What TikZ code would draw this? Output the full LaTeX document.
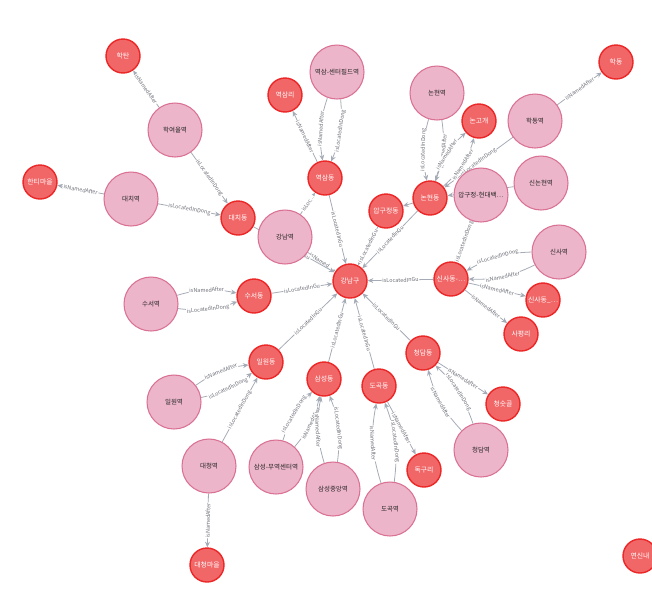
\documentclass[tikz,border=0pt]{standalone}
\usepackage{fontspec}
\setmainfont{Noto Sans CJK KR}
\usetikzlibrary{arrows.meta, backgrounds}

\definecolor{dongfill}{HTML}{F16667}
\definecolor{dongline}{HTML}{EB2728}
\definecolor{stationfill}{HTML}{ECB5C9}
\definecolor{stationline}{HTML}{DA7194}
\definecolor{edgegray}{HTML}{A5ABB6}
\definecolor{labelgray}{HTML}{6E7079}

\tikzset{
    place/.style={circle, draw=dongline, fill=dongfill, line width=0.8pt,
        minimum size=0.68cm, inner sep=0pt, text=white,
        font=\fontsize{3.9}{4.5}\selectfont},
    station/.style={circle, draw=stationline, fill=stationfill, line width=0.6pt,
        minimum size=1.08cm, inner sep=0pt, text=black!85,
        font=\fontsize{3.7}{4.5}\selectfont},
    rel/.style={draw=edgegray, line width=0.45pt,
        -{Stealth[length=3.2pt, width=2.8pt]}},
    lbl/.style={midway, sloped, fill=white, inner sep=0.4pt, text=labelgray,
        font=\fontsize{3.1}{3.8}\selectfont}
}

\begin{document}
\begin{tikzpicture}[x=0.02cm, y=-0.02cm]
    \useasboundingbox (0,0) rectangle (652,600);
    \clip (0,0) rectangle (652,600);

    % Dong / place nodes
    \node[place] (haktan) at (123,56) {학탄};
    \node[place] (yeoksamri) at (285,95) {역삼리};
    \node[place] (yeoksamdong) at (325,178) {역삼동};
    \node[place] (daechidong) at (238,218) {대치동};
    \node[place] (hantimaeul) at (40,182) {한티마을};
    \node[place] (nongogae) at (479,121) {논고개};
    \node[place] (hakdong) at (616,62) {학동};
    \node[place] (nonhyeondong) at (430,198) {논현동};
    \node[place] (apgujeongdong) at (386,211) {압구정동};
    \node[place] (gangnamgu) at (350,281) {강남구};
    \node[place] (suseodong) at (254,296) {수서동};
    \node[place] (sinsadongA) at (451,279) {신사동-…};
    \node[place] (sinsadongB) at (543,300) {신사동\_…};
    \node[place] (sapyeongri) at (521,334) {사평리};
    \node[place] (cheongdamdong) at (423,353) {청담동};
    \node[place] (irwondong) at (266,362) {일원동};
    \node[place] (samseongdong) at (324,379) {삼성동};
    \node[place] (dogokdong) at (379,386) {도곡동};
    \node[place] (cheongsutgol) at (503,404) {청숫골};
    \node[place] (dokguri) at (424,470) {독구리};
    \node[place] (daecheongmaeul) at (207,565) {대청마을};
    \node[place] (yeonsinnae) at (640,556) {연신내};

    % Station nodes
    \node[station] (hagyeoulSt) at (175,130) {학여울역};
    \node[station] (daechiSt) at (131,199) {대치역};
    \node[station] (yeoksamSt) at (337,72) {역삼-센터필드역};
    \node[station] (gangnamSt) at (285,237) {강남역};
    \node[station] (nonhyeonSt) at (437,93) {논현역};
    \node[station] (hakdongSt) at (535,121) {학동역};
    \node[station] (apgujeongSt) at (481,195) {압구정-현대백…};
    \node[station] (sinnonhyeonSt) at (541,183) {신논현역};
    \node[station] (sinsaSt) at (559,252) {신사역};
    \node[station] (suseoSt) at (151,304) {수서역};
    \node[station] (irwonSt) at (174,402) {일원역};
    \node[station] (daecheongSt) at (209,466) {대청역};
    \node[station] (samseongSt) at (276,467) {삼성-무역센터역};
    \node[station] (samseongjungangSt) at (333,489) {삼성중앙역};
    \node[station] (dogokSt) at (390,509) {도곡역};
    \node[station] (cheongdamSt) at (481,450) {청담역};

    \begin{pgfonlayer}{background}
        % Stations to dong
        \draw[rel] (hagyeoulSt) -- (haktan) node[lbl] {isNamedAfter};
        \draw[rel] (hagyeoulSt) -- (daechidong) node[lbl] {isLocatedInDong};
        \draw[rel] (daechiSt) -- (hantimaeul) node[lbl] {isNamedAfter};
        \draw[rel] (daechiSt) -- (daechidong) node[lbl] {isLocatedInDong};
        \draw[rel] (yeoksamSt) to[bend right=14] node[lbl] {isNamedAfter} (yeoksamdong);
        \draw[rel] (yeoksamSt) to[bend left=14] node[lbl] {isLocatedInDong} (yeoksamdong);
        \draw[rel] (gangnamSt) -- (yeoksamdong) node[lbl] {isLoc...};
        \draw[rel] (gangnamSt) -- (gangnamgu) node[lbl] {isNamed...};
        \draw[rel] (nonhyeonSt) to[bend right=14] node[lbl] {isLocatedInDong} (nonhyeondong);
        \draw[rel] (nonhyeonSt) to[bend left=14] node[lbl] {isNamedAfter} (nonhyeondong);
        \draw[rel] (hakdongSt) -- (hakdong) node[lbl] {isNamedAfter};
        \draw[rel] (hakdongSt) -- (nonhyeondong) node[lbl] {isLocatedInDong};
        \draw[rel] (sinnonhyeonSt) -- (nonhyeondong) node[lbl] {isLocatedInDong};
        \draw[rel] (apgujeongSt) -- (sinsadongA) node[lbl] {isLocatedInDong};
        \draw[rel] (sinsaSt) to[bend right=14] node[lbl] {isLocatedInDong} (sinsadongA);
        \draw[rel] (sinsaSt) to[bend left=14] node[lbl] {isNamedAfter} (sinsadongA);
        \draw[rel] (suseoSt) to[bend left=14] node[lbl] {isNamedAfter} (suseodong);
        \draw[rel] (suseoSt) to[bend right=14] node[lbl] {isLocatedInDong} (suseodong);
        \draw[rel] (irwonSt) to[bend left=14] node[lbl] {isNamedAfter} (irwondong);
        \draw[rel] (irwonSt) to[bend right=14] node[lbl] {isLocatedInDong} (irwondong);
        \draw[rel] (daecheongSt) -- (irwondong) node[lbl] {isLocatedInDong};
        \draw[rel] (daecheongSt) -- (daecheongmaeul) node[lbl] {isNamedAfter};
        \draw[rel] (samseongSt) to[bend left=14] node[lbl] {isLocatedInDong} (samseongdong);
        \draw[rel] (samseongSt) to[bend right=14] node[lbl] {isNamedAfter} (samseongdong);
        \draw[rel] (samseongjungangSt) to[bend left=14] node[lbl] {isNamedAfter} (samseongdong);
        \draw[rel] (samseongjungangSt) to[bend right=14] node[lbl] {isLocatedInDong} (samseongdong);
        \draw[rel] (dogokSt) to[bend left=14] node[lbl] {isNamedAfter} (dogokdong);
        \draw[rel] (dogokSt) to[bend right=14] node[lbl] {isLocatedInDong} (dogokdong);
        \draw[rel] (cheongdamSt) to[bend left=14] node[lbl] {isNamedAfter} (cheongdamdong);
        \draw[rel] (cheongdamSt) to[bend right=14] node[lbl] {isLocatedInDong} (cheongdamdong);

        % Dong to old names
        \draw[rel] (yeoksamdong) -- (yeoksamri) node[lbl] {isNamedAfter};
        \draw[rel] (nonhyeondong) to[bend left=16] node[lbl] {isNamedAfter} (nongogae);
        \draw[rel] (nonhyeondong) to[bend right=16] node[lbl] {isNamedAfter} (nongogae);
        \draw[rel] (nonhyeondong) -- (apgujeongdong);
        \draw[rel] (sinsadongA) -- (sinsadongB) node[lbl] {isNamedAfter};
        \draw[rel] (sinsadongA) -- (sapyeongri) node[lbl] {isNamedAfter};
        \draw[rel] (dogokdong) -- (dokguri) node[lbl] {isNamedAfter};
        \draw[rel] (cheongdamdong) -- (cheongsutgol) node[lbl] {isNamedAfter};

        % Dong to gu
        \draw[rel] (daechidong) -- (gangnamgu) node[lbl] {isLocatedInGu};
        \draw[rel] (yeoksamdong) -- (gangnamgu) node[lbl] {isLocatedInGu};
        \draw[rel] (apgujeongdong) -- (gangnamgu) node[lbl] {isLocatedInGu};
        \draw[rel] (nonhyeondong) -- (gangnamgu) node[lbl] {isLocatedInGu};
        \draw[rel] (sinsadongA) -- (gangnamgu) node[lbl] {isLocatedInGu};
        \draw[rel] (suseodong) -- (gangnamgu) node[lbl] {isLocatedInGu};
        \draw[rel] (irwondong) -- (gangnamgu) node[lbl] {isLocatedInGu};
        \draw[rel] (samseongdong) -- (gangnamgu) node[lbl] {isLocatedInGu};
        \draw[rel] (dogokdong) -- (gangnamgu) node[lbl] {isLocatedInGu};
        \draw[rel] (cheongdamdong) -- (gangnamgu) node[lbl] {isLocatedInGu};
    \end{pgfonlayer}
\end{tikzpicture}
\end{document}
